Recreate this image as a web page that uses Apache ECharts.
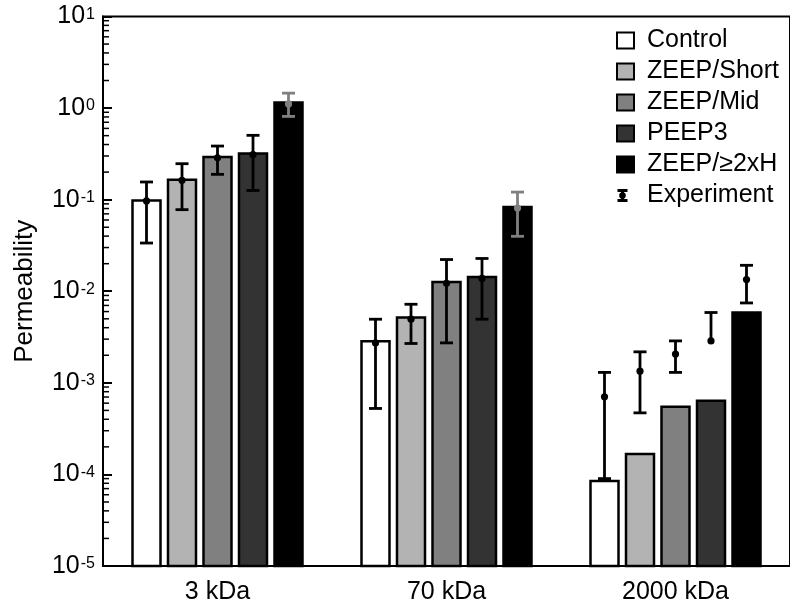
<!DOCTYPE html>
<html><head><meta charset="utf-8">
<script src="https://cdn.jsdelivr.net/npm/echarts@6/dist/echarts.min.js"></script>
<style>html,body{margin:0;padding:0;background:#fff}#c{width:790px;height:605px}</style>
</head><body><div id="c"></div>
<script>
// ---------------- data ----------------
const categories = ['3 kDa', '70 kDa', '2000 kDa'];
const conditions = ['Control', 'ZEEP/Short', 'ZEEP/Mid', 'PEEP3', 'ZEEP/≥2xH'];

// model permeability (bars) per category
const control   = [0.098, 0.00285, 8.5e-5];
const zeepShort = [0.165, 0.00516, 1.67e-4];
const zeepMid   = [0.292, 0.01265, 5.47e-4];
const peep3     = [0.32,  0.0143,  6.37e-4];
const zeep2xH   = [1.15,  0.0832,  0.00585];

// experiment: [mean, low, high] per category
const expControl   = [[0.097, 0.0336, 0.156], [0.00273, 0.000525, 0.00495], [0.000703, 9.0e-5, 0.0013]];
const expZeepShort = [[0.163, 0.0778, 0.247], [0.00495, 0.00269, 0.00721], [0.00134, 0.00047, 0.00218]];
const expZeepMid   = [[0.286, 0.189, 0.385],  [0.0122, 0.00273, 0.0222],   [0.00206, 0.0013, 0.00287]];
const expPeep3     = [[0.31, 0.126, 0.504],   [0.0138, 0.00495, 0.0228],   [0.00287, 0.00287, 0.00586]];
const expZeep2xH   = [[1.11, 0.811, 1.456],   [0.0811, 0.0398, 0.121],     [0.01342, 0.00745, 0.0192]];

const yMin = 1e-5, yMax = 10;
const minorMultipliers = [2, 3, 4, 5, 6, 7, 8, 9];
const decadeExponents = [-5, -4, -3, -2, -1, 0];

// ---------------- style ----------------
const FONT = 'Liberation Sans';
const colors = ['#ffffff', '#b3b3b3', '#808080', '#333333', '#000000'];
const BAR_W = 28, PITCH = 35.5;

const modelSets = [control, zeepShort, zeepMid, peep3, zeep2xH];
const expSets = [expControl, expZeepShort, expZeepMid, expPeep3, expZeep2xH];

function barRender(ci) {
  return function (params, api) {
    const cat = api.value(0), v = api.value(1);
    const top = api.coord([cat, v]);
    const base = api.coord([cat, yMin]);
    const x = top[0] + (ci - 2) * PITCH - BAR_W / 2;
    return {
      type: 'rect',
      shape: { x: x, y: top[1], width: BAR_W, height: base[1] - top[1] },
      style: { fill: colors[ci], stroke: '#000', lineWidth: 2.5 }
    };
  };
}

const barSeries = conditions.map(function (name, ci) {
  return {
    name: name, type: 'custom',
    itemStyle: { color: colors[ci], borderColor: '#000', borderWidth: 2 },
    encode: { x: 0, y: 1 },
    data: modelSets[ci].map(function (v, k) { return [k, v]; }),
    renderItem: barRender(ci), z: 2
  };
});

const expData = [];
expSets.forEach(function (set, ci) {
  set.forEach(function (d, k) { expData.push([k, ci, d[0], d[1], d[2]]); });
});

function expRender(params, api) {
  const cat = api.value(0), ci = api.value(1), m = api.value(2), lo = api.value(3), hi = api.value(4);
  const pm = api.coord([cat, m]), pl = api.coord([cat, lo]), ph = api.coord([cat, hi]);
  const x = pm[0] + (ci - 2) * PITCH;
  const inBlack = ci === 4 && m < modelSets[4][cat];
  const col = inBlack ? '#808080' : '#000';
  const st = { stroke: col, lineWidth: 2.8 };
  const ch = [
    { type: 'line', shape: { x1: x, y1: pl[1], x2: x, y2: ph[1] }, style: st }
  ];
  if (hi > m) ch.push({ type: 'line', shape: { x1: x - 6.5, y1: ph[1], x2: x + 6.5, y2: ph[1] }, style: st });
  if (lo < m) ch.push({ type: 'line', shape: { x1: x - 6.5, y1: pl[1], x2: x + 6.5, y2: pl[1] }, style: st });
  ch.push({ type: 'circle', shape: { cx: x, cy: pm[1], r: 3.6 }, style: { fill: col } });
  return { type: 'group', children: ch };
}

const minorTickData = [];
decadeExponents.forEach(function (e) {
  minorMultipliers.forEach(function (m) { minorTickData.push([0, m * Math.pow(10, e)]); });
});

function minorTickRender(params, api) {
  const p = api.coord([0, api.value(1)]);
  const x0 = params.coordSys.x;
  return { type: 'line', shape: { x1: x0, y1: p[1], x2: x0 + 6, y2: p[1] }, style: { stroke: '#000', lineWidth: 1.5 } };
}

const EXP_ICON = 'path://M0,0L0.01,0L0,0.01Z M17,16L16.99,16L17,15.99Z M0.5,1.5H10.5V4.5H7V11.5H10.5V14.5H0.5V11.5H4V4.5H0.5Z M2.2,8A3.3,3.3 0 1,1 8.8,8A3.3,3.3 0 1,1 2.2,8Z';

const legendData = conditions.map(function (n, i) {
  return { name: n, icon: 'rect', itemStyle: { color: colors[i], borderColor: '#000', borderWidth: 2 } };
}).concat([{ name: 'Experiment', icon: EXP_ICON, itemStyle: { color: '#000', borderWidth: 0 } }]);

const chart = echarts.init(document.getElementById('c'), null, { renderer: 'canvas' });
chart.setOption({
  animation: false,
  backgroundColor: '#fff',
  grid: { left: 103, top: 16, width: 696, height: 550, show: true, borderColor: '#000', borderWidth: 2, backgroundColor: 'transparent' },
  legend: {
    orient: 'vertical', left: 611, top: 23, itemWidth: 17, itemHeight: 16, itemGap: 6,
    selectedMode: false,
    textStyle: { fontFamily: FONT, fontSize: 25, color: '#000', lineHeight: 25, padding: [0, 0, 0, 8] },
    data: legendData
  },
  xAxis: {
    type: 'category', data: categories,
    axisLine: { show: true, lineStyle: { color: '#000', width: 2 } },
    axisTick: { show: false },
    axisLabel: { fontFamily: FONT, fontSize: 25, color: '#000', margin: 14 },
    splitLine: { show: false }
  },
  yAxis: {
    type: 'log', logBase: 10, min: yMin, max: yMax, interval: 1, splitNumber: 6,
    name: 'Permeability', nameLocation: 'middle', nameRotate: 90, nameGap: 65,
    nameTextStyle: { fontFamily: FONT, fontSize: 26, color: '#000' },
    axisLine: { show: true, lineStyle: { color: '#000', width: 2 } },
    axisTick: { show: true, inside: true, length: 9, lineStyle: { color: '#000', width: 2 } },
    splitLine: { show: false },
    axisLabel: {
      margin: 8,
      formatter: function (v) { return '{b|10}{s|' + Math.round(Math.log10(v)) + '}'; },
      rich: {
        b: { fontFamily: FONT, fontSize: 25, lineHeight: 25, color: '#000', padding: [4, 0, 0, 0], verticalAlign: 'bottom' },
        s: { fontFamily: FONT, fontSize: 16, lineHeight: 16, color: '#000', padding: [2.5, 0, 0, 1], verticalAlign: 'top' }
      }
    }
  },
  series: barSeries.concat([
    { name: 'Experiment', type: 'custom', itemStyle: { color: '#000' }, encode: { x: 0, y: [2, 3, 4] }, data: expData, renderItem: expRender, z: 3 },
    { name: 'minorTicks', type: 'custom', silent: true, encode: { x: 0, y: 1 }, data: minorTickData, renderItem: minorTickRender, z: 4 }
  ])
});
</script></body></html>
